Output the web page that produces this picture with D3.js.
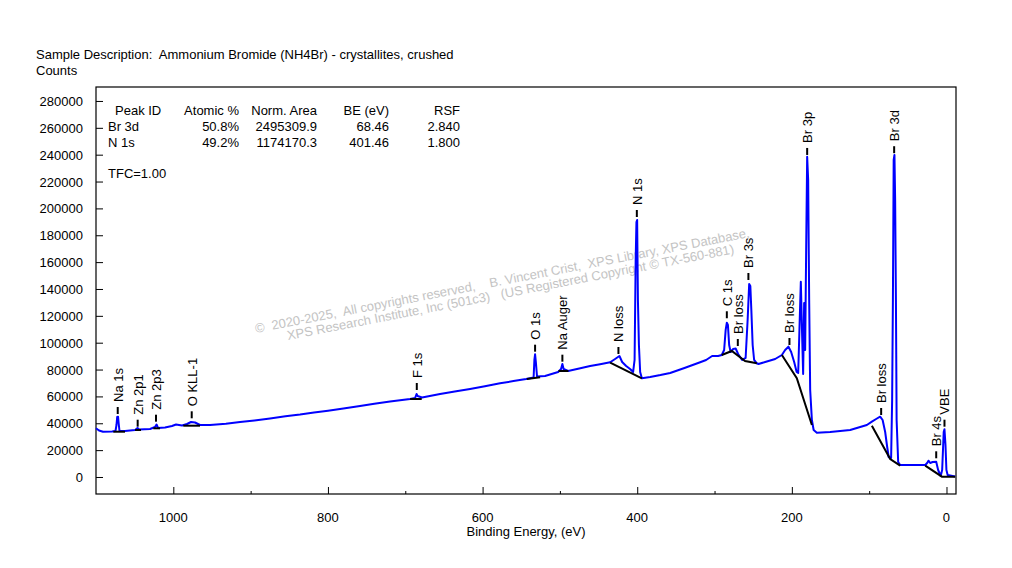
<!DOCTYPE html>
<html><head><meta charset="utf-8">
<script src="https://cdn.jsdelivr.net/npm/d3@7"></script>
<style>
body{margin:0;background:#fff}
text{font-family:"Liberation Sans",Arial,sans-serif;font-size:13px;fill:#000;white-space:pre}
</style>
</head><body>
<svg id="chart" width="1012" height="568"></svg>
<script>
// ---------- DATA ----------
const titleText = "Sample Description:  Ammonium Bromide (NH4Br) - crystallites, crushed";
const yUnitText = "Counts";
const xTitle = "Binding Energy, (eV)";
const xMajorTicks = [1000, 800, 600, 400, 200, 0];
const xMinorTicks = [900, 700, 500, 300, 100];
const yTicks = [0, 20000, 40000, 60000, 80000, 100000, 120000, 140000, 160000, 180000, 200000, 220000, 240000, 260000, 280000];

// survey spectrum [binding energy eV, counts]
const spectrum = [
 [1100,36270],[1096.1,34630],[1090.9,33730],[1079.3,33880],[1074.8,34260],[1073.5,38720],[1072.6,44680],[1071.5,44900],
 [1070.6,39470],[1069.6,34260],[1062.5,34260],[1049.5,35000],[1046.3,36490],[1044.4,35370],[1030.1,35750],[1023.7,37240],
 [1021.7,39100],[1019.8,36490],[1010.7,36860],[1001.7,37980],[996.5,39100],[988.7,38350],[982.3,39470],[977.1,40960],
 [971.9,40590],[965.5,38720],[952.5,38720],[932.0,39700],[913.7,40960],[895.0,42100],[874.9,43560],[855.0,45200],[836.1,46540],
 [818.0,48100],[799.9,49370],[780.0,51000],[758.5,52870],[740.0,54500],
 [719.7,56220],[693.8,58090],[687.3,58830],[685.4,61810],[684.1,60320],[678.3,59200],[655.0,61810],[636.0,63600],[616.2,65530],
 [597.0,67600],[577.4,69780],[560.0,71400],[543.7,72980],[534.0,74100],[533.0,87130],[532.1,91370],[531.1,85640],[529.6,74840],[519.2,75220],
 [502.3,78190],[498.5,80430],[496.8,84150],[495.2,80430],[489.4,78940],[475.0,80800],[460.9,82660],[448.0,84000],[435.0,85420],[428.6,87870],
 [423.0,90110],[419.5,85640],[414.3,82660],[409.2,80430],[405.3,78190],[403.4,87130],[402.0,161600],[401.0,189900],
 [400.1,191400],[399.1,131800],[397.8,98300],[396.2,78190],[394.0,73500],[383.3,74470],[370.0,75900],[357.4,77450],[338.0,81300],[318.6,85420],
 [310.9,87130],[303.1,90110],[295.4,90110],[290.6,90850],[287.6,94580],[285.6,109500],[284.1,114900],[282.7,113200],
 [281.1,98300],[279.2,93090],[275.9,95320],[272.7,95700],[269.5,91600],[264.3,87130],[259.8,88620],[257.2,116900],
 [255.2,143700],[253.7,142200],[252.4,124400],[250.7,98300],[248.8,87130],[245.3,84670],[243.2,84150],[234.5,85640],
 [221.6,87870],[212.9,90850],[208.7,94580],[204.4,97040],[200.9,93090],[197.0,85640],[193.8,78190],[191.8,77450],
 [190.2,109500],[188.4,145400],[186.9,109500],[185.4,76700],[184.1,129600],[182.8,94580],[181.5,169000],[180.2,238500],
 [178.9,221200],[177.6,131800],[176.3,64790],[174.1,42450],[171.8,35000],[167.7,32990],[150.4,33510],[124.6,35000],
 [103.0,38720],[96.5,41180],[91.0,43190],[85.8,44900],[82.6,42450],[79.3,33510],[76.7,22340],[74.8,14890],
 [71.6,14150],[70.3,57340],[69.3,131800],[68.3,236100],[67.3,239800],[66.4,206300],[65.4,131800],[64.5,42450],
 [62.5,11170],[59.9,8936],[27.5,8936],[25.0,10430],[23.3,12140],[21.1,10430],[17.9,11170],[13.3,11390],
 [10.8,5213],[7.5,745],[5.6,5213],[3.6,33510],[2.6,35520],[1.3,23830],[0.1,5213],[-1.5,1489],[-11.2,372]
];

// background (black) segments
const backgrounds = [
 [[1077.6,33730],[1062.5,33730]],
 [[1049.5,35000],[1041.8,35000]],
 [[1025.9,36270],[1017.2,36270]],
 [[987.1,38200],[965.5,38200]],
 [[693.8,58090],[678.7,58090]],
 [[542.8,72980],[525.6,74250]],
 [[501.9,78940],[489.0,78940]],
 [[435.0,85120],[394.0,73500]],
 [[290.6,90850],[277.7,93830],[260.5,86380],[245.3,84670]],
 [[212.9,90850],[193.6,73500],[174.1,38720]],
 [[96.5,38200],[72.8,13400],[59.9,8415]],
 [[27.5,8415],[5.9,223],[-11.3,223]]
];

// peak labels: name, BE, counts at bottom of marker
const peakNames  = ["Na 1s","Zn 2p1","Zn 2p3","O KLL-1","F 1s","O 1s","Na Auger","N loss","N 1s","C 1s","Br loss","Br 3s","Br loss","Br 3p","Br loss","Br 3d","Br 4s","VBE"];
const peakBE     = [1071.9,1046.1,1022.4,976.2,685.1,532.1,496.8,424.3,400.5,284.1,269.9,256.2,203.1,180.2,84.5,67.7,13.3,2.6];
const peakMarker = [46900,37460,41180,43710,64790,93310,85870,91600,193600,118200,97560,146700,98300,239800,46170,241100,13930,37460];

// quantification table
const tableHeader = ["Peak ID","Atomic %","Norm. Area","BE (eV)","RSF"];
const tableRows = [
 ["Br 3d","50.8%","2495309.9","68.46","2.840"],
 ["N 1s","49.2%","1174170.3","401.46","1.800"]
];
const tfcText = "TFC=1.00";
const watermark = [
 "\u00A9  2020-2025,  All copyrights reserved,    B. Vincent Crist,  XPS Library, XPS Database,",
 "XPS Research Institute, Inc (501c3)   (US Registered Copyright \u00A9 TX-560-881)"
];

// ---------- DRAW ----------
const svg = d3.select("#chart");
const L = 96, R = 956, T = 87, B = 494;
const x = d3.scaleLinear().domain([1100, -12.3]).range([L, R]);
const y = d3.scaleLinear().domain([-12660, 290400]).range([B, T]);

// titles
svg.append("text").attr("x", 36).attr("y", 59).text(titleText);
svg.append("text").attr("x", 36).attr("y", 75).text(yUnitText);

// watermark
const wm = svg.append("g").attr("transform", "translate(256,333) rotate(-11)");
wm.selectAll("text").data(watermark).join("text")
  .attr("x", (d, i) => i ? 30 : 0).attr("y", (d, i) => i ? 13 : 0)
  .style("fill", "#c4c4c4").style("font-size", "13px")
  .text(d => d);

// axes
const xAxisMaj = d3.axisTop(x).tickValues(xMajorTicks).tickSize(7).tickFormat("");
const xAxisMin = d3.axisTop(x).tickValues(xMinorTicks).tickSize(3).tickFormat("");
svg.append("g").attr("transform", `translate(0,${B})`).call(xAxisMaj).call(g => g.select(".domain").remove());
svg.append("g").attr("transform", `translate(0,${B})`).call(xAxisMin).call(g => g.select(".domain").remove());
const yAxis = d3.axisRight(y).tickValues(yTicks).tickSize(7).tickFormat("");
svg.append("g").attr("transform", `translate(${L},0)`).call(yAxis).call(g => g.select(".domain").remove());
svg.selectAll(".tick line").attr("stroke", "#000").attr("stroke-width", 1);

svg.append("g").selectAll("text").data(xMajorTicks).join("text")
  .attr("x", d => x(d)).attr("y", 522).attr("text-anchor", "middle").text(d => d);
svg.append("g").selectAll("text").data(yTicks).join("text")
  .attr("x", 83).attr("y", d => y(d) + 5).attr("text-anchor", "end").text(d => d);
svg.append("text").attr("x", (L + R) / 2).attr("y", 536).attr("text-anchor", "middle").text(xTitle);

// frame
svg.append("rect").attr("x", L).attr("y", T).attr("width", R - L).attr("height", B - T)
  .attr("fill", "none").attr("stroke", "#000").attr("stroke-width", 1.2);

// table
const colX = [115, 239, 317, 389, 460];
const colAnchor = ["start", "end", "end", "end", "end"];
svg.append("g").selectAll("text").data(tableHeader).join("text")
  .attr("x", (d, i) => colX[i]).attr("y", 115).attr("text-anchor", (d, i) => colAnchor[i]).text(d => d);
tableRows.forEach((row, r) => {
  svg.append("g").selectAll("text").data(row).join("text")
    .attr("x", (d, i) => i === 0 ? 108 : colX[i]).attr("y", 131 + r * 16)
    .attr("text-anchor", (d, i) => colAnchor[i]).text(d => d);
});
svg.append("text").attr("x", 108).attr("y", 178).text(tfcText);

// spectrum
const plot = svg.append("g");
const line = d3.line().x(d => x(d[0])).y(d => y(d[1]));
plot.append("path").datum(spectrum).attr("d", line)
  .attr("fill", "none").attr("stroke", "#0000ff").attr("stroke-width", 2).attr("stroke-linejoin", "round");
plot.selectAll(".bg").data(backgrounds).join("path").attr("class", "bg").attr("d", line)
  .attr("fill", "none").attr("stroke", "#000").attr("stroke-width", 2);

// peak labels
const lab = svg.append("g");
peakNames.forEach((name, i) => {
  const px = x(peakBE[i]), py = y(peakMarker[i]);
  lab.append("line").attr("x1", px).attr("x2", px).attr("y1", py).attr("y2", py - 7)
    .attr("stroke", "#000").attr("stroke-width", 2);
  lab.append("text").attr("transform", `translate(${px + 5},${py - 12}) rotate(-90)`).text(name);
});
</script>
</body></html>
